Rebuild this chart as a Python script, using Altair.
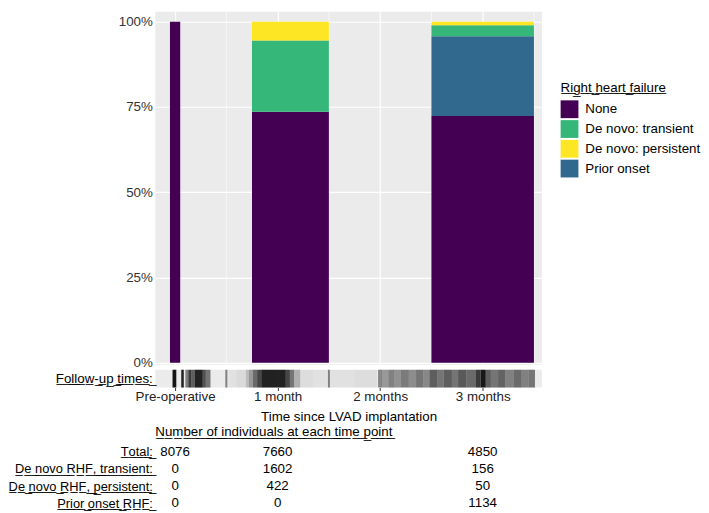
import altair as alt
import pandas as pd

FONT = "Liberation Sans"

# ---------------- data ----------------
tick_values = [0, 1, 2, 3]
time_labels = ["Pre-operative", "1 month", "2 months", "3 months"]
minor_grid = [0.5, 1.5, 2.5, 3.5]

bar_time = [0, 1, 3]
bar_start = [-0.05, 0.75, 2.5]
bar_end = [0.05, 1.5, 3.5]
total = [8076, 7660, 4850]
transient = [0, 1602, 156]
persistent = [0, 422, 50]
prior = [0, 0, 1134]

categories = ["None", "De novo: transient", "De novo: persistent", "Prior onset"]
colors = ["#440154", "#35B779", "#FDE725", "#31688E"]
stack_order = ["None", "Prior onset", "De novo: transient", "De novo: persistent"]

# follow-up time density strip (months)
rug_start = [-0.025, 0.06, 0.10, 0.12, 0.135, 0.16, 0.19, 0.27, 0.30, 0.49, 0.52, 0.60, 0.69, 0.72, 0.76,
             0.80, 0.84, 1.08, 1.12, 1.16, 1.22, 1.35, 1.49, 1.51, 1.75,
             1.98, 2.02, 2.08, 2.14, 2.20, 2.28, 2.35, 2.42, 2.48, 2.56, 2.62, 2.70, 2.76, 2.84,
             2.93, 2.98, 3.03, 3.08, 3.15, 3.22, 3.30, 3.38, 3.45]
rug_end = [0.012, 0.085, 0.12, 0.135, 0.16, 0.19, 0.27, 0.30, 0.345, 0.51, 0.60, 0.69, 0.72, 0.76, 0.80,
           0.84, 1.08, 1.12, 1.16, 1.22, 1.35, 1.48, 1.51, 1.75, 1.97,
           2.02, 2.08, 2.14, 2.20, 2.28, 2.35, 2.42, 2.48, 2.56, 2.62, 2.70, 2.76, 2.84, 2.93,
           2.98, 3.03, 3.08, 3.15, 3.22, 3.30, 3.38, 3.45, 3.51]
rug_alpha = [0.92, 0.85, 0.45, 0.6, 0.75, 0.6, 0.85, 0.65, 0.5, 0.45, 0.04, 0.07, 0.2, 0.35, 0.55,
             0.7, 0.86, 0.7, 0.5, 0.25, 0.06, 0.04, 0.45, 0.04, 0.06,
             0.45, 0.35, 0.45, 0.38, 0.48, 0.4, 0.5, 0.42, 0.6, 0.5, 0.6, 0.5, 0.62, 0.55,
             0.75, 0.9, 0.6, 0.5, 0.58, 0.45, 0.55, 0.45, 0.5]

row_labels = ["Total:", "De novo RHF, transient:", "De novo RHF, persistent:", "Prior onset RHF:"]
table_title = "Number of individuals at each time point"


def ul(s):
    return "".join(c + "\u0332" for c in s)


# ---------------- tables ----------------
counts = {
    "De novo: transient": transient,
    "De novo: persistent": persistent,
    "Prior onset": prior,
}
rows = []
for i, t in enumerate(bar_time):
    none = total[i] - transient[i] - persistent[i] - prior[i]
    vals = {"None": none, **{k: v[i] for k, v in counts.items()}}
    cum = 0.0
    for cat in stack_order:
        p = vals[cat] / total[i]
        rows.append({"t": t, "xs": bar_start[i], "xe": bar_end[i], "cat": cat,
                     "y0": cum, "y1": cum + p})
        cum += p
bars_df = pd.DataFrame(rows)

rug_df = pd.DataFrame({"s": rug_start, "e": rug_end, "a": rug_alpha,
                       "lab": [ul("Follow-up times:")] * len(rug_start)})

trows = []
for i, t in enumerate(bar_time):
    vals = [total[i], transient[i], persistent[i], prior[i]]
    for lab, v in zip(row_labels, vals):
        trows.append({"t": t, "row": ul(lab), "n": str(v)})
table_df = pd.DataFrame(trows)

# ---------------- scales ----------------
W = 391
x_scale = alt.Scale(domain=[-0.193, 3.577], nice=False, zero=False)
y_scale = alt.Scale(domain=[-0.006, 1.029], nice=False, zero=False)
panel_bg = alt.ViewBackground(fill="#EBEBEB", stroke=None)

# ---------------- main panel ----------------
minor = alt.Chart(pd.DataFrame({"m": minor_grid})).mark_rule(
    color="white", strokeWidth=0.6
).encode(
    x=alt.X("m:Q", scale=x_scale,
            axis=alt.Axis(values=tick_values, grid=True, gridColor="white", gridWidth=1.2,
                          labels=False, ticks=False, domain=False, title=None))
)

bars = alt.Chart(bars_df).mark_rect().encode(
    x=alt.X("xs:Q", scale=x_scale),
    x2="xe:Q",
    y=alt.Y("y0:Q", scale=y_scale,
            axis=alt.Axis(values=[0, 0.25, 0.5, 0.75, 1], format=".0%", grid=True,
                          gridColor="white", gridWidth=1.2, domain=False, ticks=False,
                          labelFontSize=13.5, labelColor="#333", labelPadding=3,
                          title=None)),
    y2="y1:Q",
    color=alt.Color("cat:N",
                    scale=alt.Scale(domain=categories, range=colors),
                    legend=alt.Legend(title=ul("Right heart failure"), orient="none",
                                      legendX=410, legendY=70)),
)

main = alt.layer(minor, bars).properties(width=W, height=357, view=panel_bg)

# ---------------- follow-up strip ----------------
rug = alt.Chart(rug_df).mark_rect(color="black").encode(
    x=alt.X("s:Q", scale=x_scale,
            axis=alt.Axis(values=tick_values, labelExpr=f"{time_labels}[datum.value]",
                          grid=True, gridColor="white", gridWidth=1.2, tickColor="#333",
                          tickSize=3, domain=False, title="Time since LVAD implantation",
                          labelFontSize=13.5, titleFontSize=13.5, titleFontWeight="normal",
                          labelColor="#222", titleColor="black", labelPadding=-1,
                          titlePadding=7)),
    x2="e:Q",
    y=alt.Y("lab:N", scale=alt.Scale(paddingInner=0, paddingOuter=0),
            axis=alt.Axis(title=None, ticks=False, domain=False, labelFontSize=13.5,
                          labelColor="black", labelPadding=3)),
    opacity=alt.Opacity("a:Q", scale=None, legend=None),
).properties(width=W, height=18, view=panel_bg)

# ---------------- table ----------------
table = alt.Chart(table_df).mark_text(fontSize=13.5, color="black").encode(
    x=alt.X("t:Q", scale=x_scale, axis=None),
    y=alt.Y("row:N", sort=[ul(r) for r in row_labels],
            scale=alt.Scale(type="point", padding=0),
            axis=alt.Axis(title=None, ticks=False, domain=False, grid=False,
                          labelFontSize=13, labelColor="black", labelPadding=3)),
    text="n:N",
).properties(width=W, height=52,
             title=alt.TitleParams(ul(table_title), anchor="start", frame="group",
                                   fontSize=13.5, fontWeight="normal", offset=6,
                                   color="black"),
             view=alt.ViewBackground(fill=None, stroke=None))

top = alt.vconcat(main, rug, spacing=0)
chart = alt.vconcat(top, table, spacing=2).properties(padding=0).configure(
    font=FONT
).configure_view(stroke=None).configure_legend(
    titleFontSize=13.5, titleFontWeight="normal", titleColor="black", titlePadding=6,
    labelFontSize=13.5, labelColor="black", symbolType="square", symbolSize=324,
    symbolStrokeWidth=0, symbolOpacity=1, rowPadding=2, labelOffset=7
)

chart.save("out.html", embed_options={"renderer": "svg", "actions": False})
